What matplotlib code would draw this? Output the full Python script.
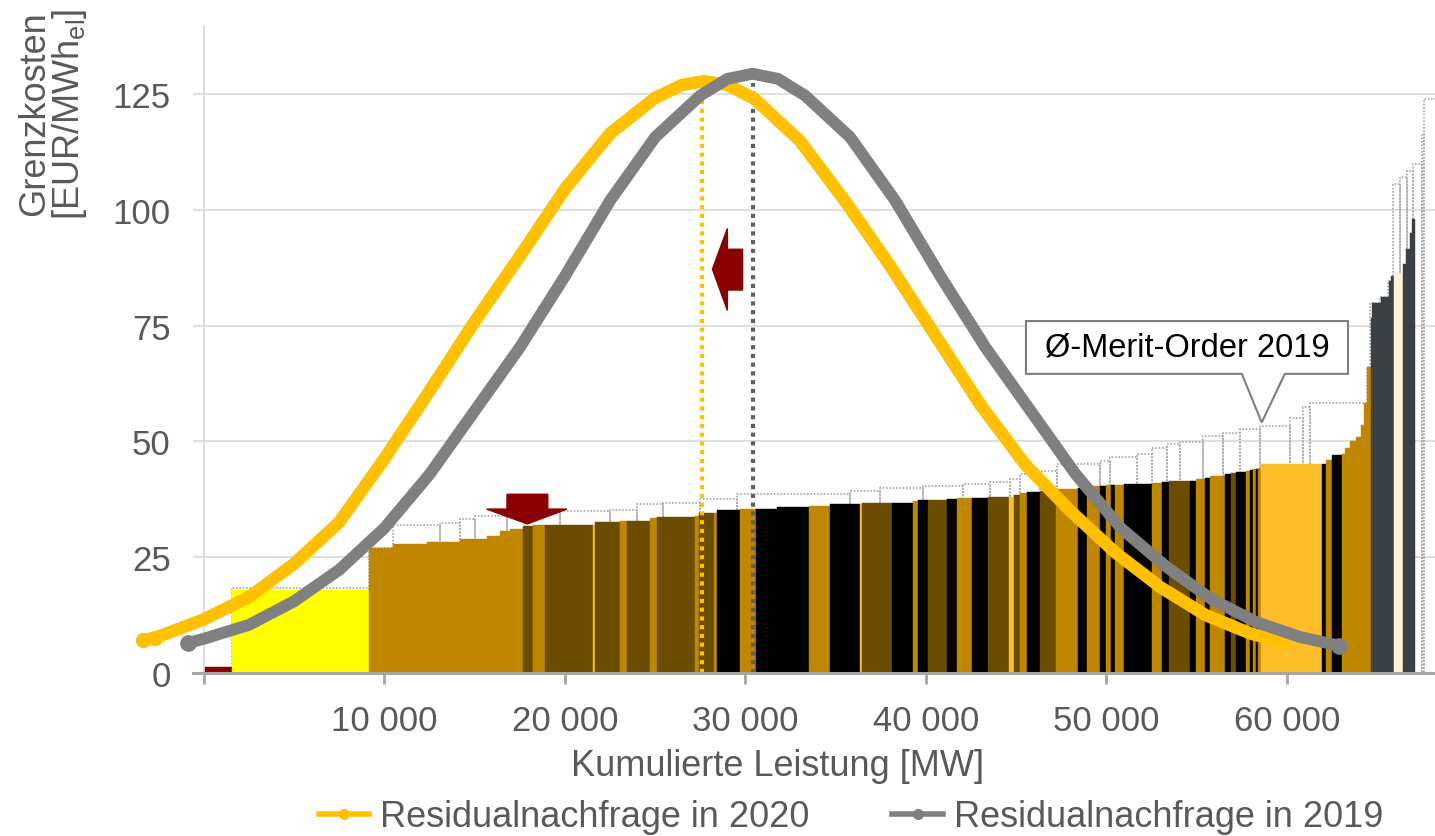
import numpy as np
import matplotlib.pyplot as plt
from matplotlib.patches import Polygon
from matplotlib.lines import Line2D

plt.rcParams['font.family'] = ['Liberation Sans', 'DejaVu Sans']
plt.rcParams['mathtext.fontset'] = 'custom'
plt.rcParams['mathtext.rm'] = 'Liberation Sans'

# Merit-Order 2020: rechte Blockkante [MW], Grenzkosten [EUR/MWh], Farbgruppe
mo_edges = [1550, 9140, 10470, 12350, 14180, 15680, 16400, 16950, 17670,
            18230, 18560, 18890, 21550, 21660, 23050, 23430, 24710, 25100,
            27200, 27420, 28250, 28420, 29690, 30580, 31740, 33520, 34680,
            36340, 36450, 38120, 39280, 39560, 40110, 41160, 41720, 42550,
            43430, 44600, 44870, 45210, 45590, 46310, 47200, 47980, 48420,
            48920, 49640, 49970, 50250, 50470, 50970, 52520, 53070, 53460,
            54620, 54960, 55450, 55730, 56560, 56900, 57170, 57730, 57950,
            58110, 58280, 58390, 58560, 61920, 62140, 62470, 63060, 63190,
            63480, 63800, 64080, 64260, 64450, 64640, 64730, 65190, 65650,
            65790, 65930, 66450, 66580, 66820, 66950, 67080]
mo_costs = [1.2, 17.9, 27.0, 27.8, 28.4, 28.9, 29.6, 30.6, 31.2,
            31.7, 31.9, 32.0, 32.0, 32.0, 32.7, 32.8, 32.9, 33.4,
            33.6, 33.8, 34.5, 34.6, 35.3, 35.5, 35.5, 35.8, 36.1,
            36.4, 36.5, 36.7, 36.7, 37.1, 37.3, 37.4, 37.6, 37.8,
            37.9, 38.1, 38.1, 38.4, 38.9, 39.0, 39.2, 39.7, 39.8,
            40.0, 40.4, 40.4, 40.5, 40.5, 40.7, 40.9, 41.0, 41.2,
            41.4, 41.5, 41.9, 42.2, 42.6, 43.0, 43.1, 43.3, 43.6,
            43.8, 44.0, 44.1, 44.2, 45.2, 45.2, 46.0, 47.0, 47.2,
            48.5, 50.0, 51.0, 53.5, 58.3, 66.0, 76.7, 80.0, 81.3,
            84.7, 85.7, 86.4, 88.3, 91.5, 95.0, 98.0]
mo_groups = ['R', 'Y', 'T', 'T', 'T', 'T', 'T', 'T', 'T',
             'B', 'T', 'T', 'B', 'O', 'B', 'T', 'B', 'T',
             'B', 'T', 'B', 'T', 'K', 'T', 'K', 'K', 'T',
             'K', 'O', 'B', 'K', 'T', 'K', 'B', 'K', 'T',
             'K', 'B', 'O', 'B', 'T', 'K', 'B', 'T', 'T',
             'K', 'T', 'K', 'T', 'K', 'T', 'K', 'T', 'K',
             'B', 'K', 'T', 'K', 'T', 'K', 'B', 'K', 'T',
             'K', 'T', 'K', 'T', 'O', 'K', 'T', 'K', 'T',
             'T', 'T', 'T', 'T', 'T', 'T', 'S', 'S', 'S',
             'S', 'S', 'C', 'S', 'S', 'S', 'S']

# Merit-Order 2019 (gepunktete Kontur): Blockgrenzen und Grenzkosten
mo19_edges = [1550, 9140, 10470, 13070, 14180, 15010, 16790, 19720, 22490,
              23990, 25430, 27480, 29530, 35790, 37450, 39830, 42050, 43540,
              44650, 45210, 46310, 47260, 49640, 50190, 51690, 52520, 53350,
              54070, 55340, 56450, 57390, 58500, 60160, 60880, 61270, 64430,
              64600, 65150, 65600, 65870, 66260, 66650, 66980, 67480, 67590, 68300]
mo19_costs = [18.3, 27.0, 32.0, 32.5, 33.2, 34.0, 34.7, 34.9, 35.1,
              36.5, 36.8, 37.6, 38.6, 39.2, 39.9, 40.3, 40.8, 41.3,
              41.9, 43.0, 43.7, 45.1, 45.8, 46.6, 47.3, 48.5, 49.4,
              49.9, 51.2, 51.9, 52.7, 53.4, 55.0, 57.5, 58.3, 66.0,
              80.0, 81.3, 84.7, 105.6, 107.0, 108.5, 110.0, 116.4, 124.0]

# Residualnachfrage (Haeufigkeitsverteilung, auf Kostenachse skaliert)
rn20_mw = [-3400, -2700, 0, 2500, 5000, 7500, 10000, 12500, 15000, 17500,
           20000, 22500, 25000, 26500, 27700, 29000, 30500, 33000, 35500,
           38000, 40500, 43000, 45500, 48000, 50500, 53000, 55500, 58000, 59700]
rn20_val = [7.1, 7.6, 11.6, 16.4, 23.6, 32.6, 46.3, 60.9, 75.9, 90,
            104.5, 116.5, 124.2, 127, 127.8, 127, 124, 115, 102,
            88, 73, 58, 45, 35, 26, 18.5, 12.5, 8.5, 6.7]
rn19_mw = [-860, 0, 2500, 5000, 7500, 10000, 12500, 15000, 17500, 20000,
           22500, 25000, 27500, 29000, 30400, 31800, 33300, 35800, 38300,
           40800, 43300, 45800, 48300, 50800, 53300, 55800, 58300, 60700, 62900]
rn19_val = [6.5, 7.4, 10.4, 15.5, 22.3, 31.3, 42.9, 56.6, 70.3, 85.7,
            102, 115.7, 124.7, 128.3, 129.4, 128.3, 124.7, 115.7, 102,
            85.7, 70.3, 56.6, 42.9, 31.3, 23, 16, 11, 7.8, 5.9]
mean20, mean19 = 27600, 30400

colors = {'R': '#8B0000', 'Y': '#FFFF00', 'T': '#BF8600', 'B': '#6B4C00',
          'K': '#000000', 'O': '#FDBE2A', 'S': '#3B4044', 'C': '#FFF2D6'}
grey_txt = '#595959'

fig = plt.figure(figsize=(14.35, 8.37), dpi=100)
ax = fig.add_axes([0.0836, 0.1947, 0.9164, 0.773])

# 2019 Kontur hinter den Bloecken
ax.bar(mo19_edges[:-1], mo19_costs, width=np.diff(mo19_edges), align='edge',
       fill=False, edgecolor='#A6A6A6', linestyle=(0, (1, 1)), linewidth=1.2,
       zorder=1)

left = [0] + mo_edges[:-1]
widths = np.diff([0] + mo_edges)
ax.bar(left, mo_costs, width=widths, align='edge',
       color=[colors[g] for g in mo_groups],
       edgecolor=[colors[g] for g in mo_groups], linewidth=0.3, zorder=2)

# Gitter
for yv in [25, 50, 75, 100, 125]:
    ax.plot([0, 68300], [yv, yv], color='#D9D9D9', lw=1.2, zorder=0)

# Mittelwerte
ax.plot([mean20, mean20], [0, 124], color='#FFC000', lw=3,
        linestyle=(0, (1, 1.1)), zorder=3)
ax.plot([mean19, mean19], [0, 127.5], color='#5F5F5F', lw=3,
        linestyle=(0, (1, 1.1)), zorder=3)

# Verteilungskurven
ax.plot(rn20_mw, rn20_val, color='#FFC000', lw=9, solid_capstyle='round',
        solid_joinstyle='round', marker='o', ms=10, markevery=[0, 1, -1], zorder=4)
ax.plot(rn19_mw, rn19_val, color='#808080', lw=8.5, solid_capstyle='round',
        solid_joinstyle='round', marker='o', ms=11, markevery=[0, -1], zorder=5)

# Pfeile
ax.add_patch(Polygon([(16790, 38.6), (19050, 38.6), (19050, 35.4), (20110, 35.4),
                      (17920, 32.2), (15660, 35.4), (16790, 35.4)],
                     closed=True, color='#8B0000', zorder=6))
ax.add_patch(Polygon([(28170, 87.2), (29000, 96.0), (29000, 91.5), (29840, 91.5),
                      (29840, 82.7), (29000, 82.7), (29000, 78.3)],
                     closed=True, color='#8B0000', zorder=6))

# Callout
ax.add_patch(Polygon([(45540, 76.0), (63380, 76.0), (63380, 64.6), (59880, 64.6),
                      (58600, 54.1), (57500, 64.6), (45540, 64.6)],
                     closed=True, facecolor='white', edgecolor='#7F7F7F',
                     lw=1.5, zorder=7))
ax.text(54460, 70.3, 'Ø-Merit-Order 2019', ha='center', va='center',
        fontsize=23.5, color='#000000', zorder=8)

ax.set_xlim(-4650, 68200)
ax.set_ylim(0, 139.7)

for s in ['top', 'right']:
    ax.spines[s].set_visible(False)
ax.spines['left'].set_position(('data', 0))
ax.spines['left'].set_color('#D9D9D9')
ax.spines['left'].set_linewidth(1.2)
ax.spines['bottom'].set_color('#A6A6A6')
ax.spines['bottom'].set_linewidth(2.2)
ax.spines['bottom'].set_bounds(-600, 68200)
ax.spines['bottom'].set_zorder(9)

xt = [0, 10000, 20000, 30000, 40000, 50000, 60000]
ax.set_xticks(xt)
ax.set_xticklabels([''] + [f'{v:,}'.replace(',', ' ') for v in xt[1:]])
ax.set_yticks([0, 25, 50, 75, 100, 125])
ax.tick_params(axis='x', length=8, width=2, color='#A6A6A6', pad=14,
               labelsize=25, labelcolor=grey_txt)
ax.tick_params(axis='y', length=8, width=1.2, color='#D9D9D9', pad=16,
               labelsize=25, labelcolor=grey_txt)

ax.set_xlabel('Kumulierte Leistung [MW]', fontsize=26, color=grey_txt, labelpad=8)
fig.text(0.037, 0.99, 'Grenzkosten\n[EUR/MWh$_\\mathregular{el}$]', rotation=90,
         ha='center', va='top', fontsize=26, color=grey_txt, linespacing=0.9)

handles = [Line2D([], [], color='#FFC000', lw=4, marker='o', ms=7),
           Line2D([], [], color='#808080', lw=4, marker='o', ms=7)]
fig.legend(handles, ['Residualnachfrage in 2020', 'Residualnachfrage in 2019'],
           loc='center', bbox_to_anchor=(0.593, 0.023), ncol=2, frameon=False,
           fontsize=26, labelcolor=grey_txt, handlelength=1.4,
           handletextpad=0.3, columnspacing=2.3)

fig.savefig('out.png', dpi=100)
